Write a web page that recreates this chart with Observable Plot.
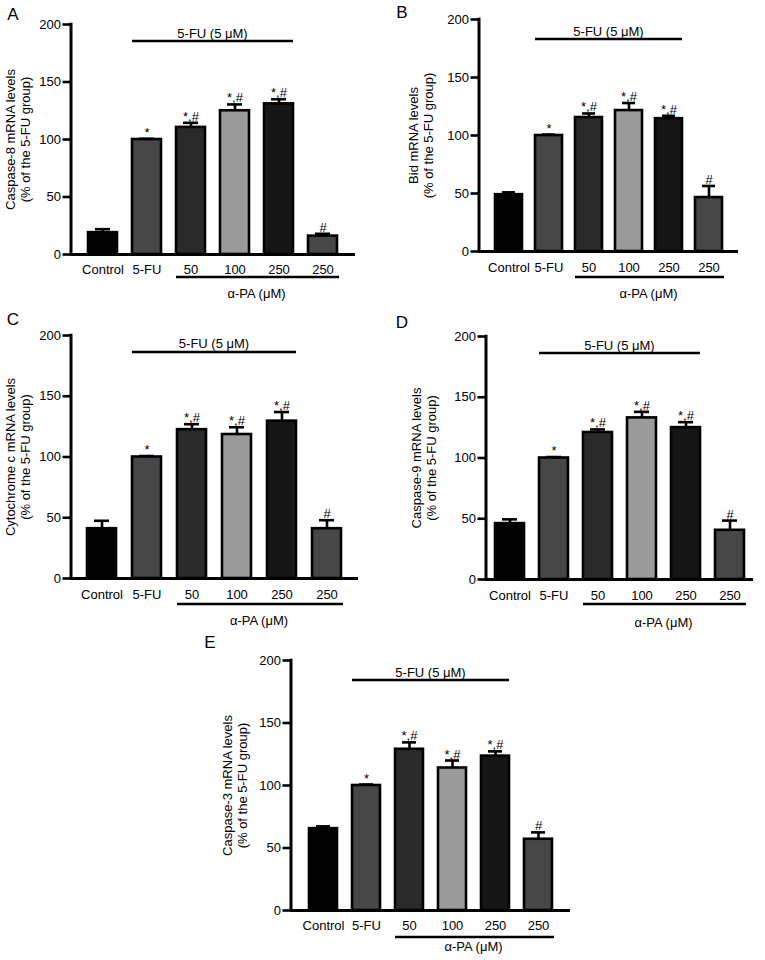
<!DOCTYPE html>
<html>
<head>
<meta charset="utf-8">
<script src="https://cdn.jsdelivr.net/npm/d3@7"></script>
<script src="https://cdn.jsdelivr.net/npm/@observablehq/plot@0.6"></script>
<style>
  html, body { margin: 0; padding: 0; background: #fff; }
  #root { position: relative; width: 765px; height: 960px; overflow: hidden; background: #fff; }
  .panel { position: absolute; }
</style>
</head>
<body>
<div id="root"></div>
<script>
// ---------------- data ----------------
const groupKeys = ["Control", "5-FU", "50", "100", "250", "250 alone"];
const tickLabels = ["Control", "5-FU", "50", "100", "250", "250"];
const barFills = ["#000000", "#474747", "#2a2a2a", "#9a9a9a", "#161616", "#474747"];
const sigLabels = ["", "*", "*,#", "*,#", "*,#", "#"];
const yTicks = [0, 50, 100, 150, 200];

const panelLetters = ["A", "B", "C", "D", "E"];
const yTitles = ["Caspase-8 mRNA levels", "Bid mRNA levels", "Cytochrome c mRNA levels", "Caspase-9 mRNA levels", "Caspase-3 mRNA levels"];
const ySubtitle = "(% of the 5-FU group)";

const caspase8 = [19, 100, 110.5, 125, 131, 16];
const caspase8Err = [3, 0.6, 4, 5.5, 4, 2];
const bid = [49, 100, 115.5, 121.5, 114.5, 46.5];
const bidErr = [2, 0.8, 3.5, 6.5, 2.5, 10];
const cytochromeC = [41, 100, 122.5, 118.5, 129.5, 41];
const cytochromeCErr = [6.5, 0.8, 4.5, 6, 7.5, 7];
const caspase9 = [46, 100, 121, 133, 125, 40.5];
const caspase9Err = [3.5, 0.8, 2.5, 5, 4.5, 8];
const caspase3 = [65.5, 100, 129, 114, 123.5, 57];
const caspase3Err = [1.8, 0.8, 5.5, 6, 3.8, 5.5];

const bracketLabels = ["5-FU (5 μM)", "α-PA (μM)"];
const bracketFrom = ["5-FU", "50"];
const bracketTo = ["250", "250 alone"];

const panelValues = [caspase8, bid, cytochromeC, caspase9, caspase3];
const panelErrors = [caspase8Err, bidErr, cytochromeCErr, caspase9Err, caspase3Err];

// ---------------- layout (pixels) ----------------
const layouts = [
  {left: 0,   top: 0,   w: 380, h: 305, mL: 71,  mR: 25, mT: 24, mB: 51, pi: 0.33, po: 0.35, titleDx: -54, catPad: 10, upLine: 17, upText: 14, dnLine: 23, dnText: 44, letterX: 13, letterY: 20},
  {left: 380, top: 0,   w: 385, h: 305, mL: 99,  mR: 27, mT: 19, mB: 54, pi: 0.32, po: 0.335, titleDx: -59, catPad: 11, upLine: 20, upText: 17, dnLine: 26, dnText: 47, letterX: 22, letterY: 18},
  {left: 0,   top: 300, w: 380, h: 330, mL: 71,  mR: 22, mT: 35, mB: 52, pi: 0.345, po: 0.36, titleDx: -54, catPad: 11, upLine: 17, upText: 13, dnLine: 26, dnText: 47, letterX: 13, letterY: 25},
  {left: 380, top: 300, w: 385, h: 330, mL: 106, mR: 12, mT: 36, mB: 51, pi: 0.35, po: 0.18, titleDx: -63, catPad: 11, upLine: 17, upText: 14, dnLine: 25, dnText: 48, letterX: 22, letterY: 28},
  {left: 180, top: 620, w: 400, h: 340, mL: 111, mR: 10, mT: 40, mB: 50, pi: 0.36, po: 0.37, titleDx: -57, catPad: 10, upLine: 20, upText: 17, dnLine: 27, dnText: 41, letterX: 30, letterY: 28}
];

const FONT = "'Liberation Sans', Arial, Helvetica, sans-serif";
const root = document.getElementById("root");
const labelByKey = new Map(groupKeys.map((k, i) => [k, tickLabels[i]]));

panelLetters.forEach((letter, p) => {
  const L = layouts[p];
  const vals = panelValues[p], errs = panelErrors[p];
  const data = groupKeys.map((k, i) => ({key: k, value: vals[i], top: vals[i] + errs[i], sig: sigLabels[i]}));

  const chart = Plot.plot({
    width: L.w, height: L.h,
    marginLeft: L.mL, marginRight: L.mR, marginTop: L.mT, marginBottom: L.mB,
    style: {fontFamily: FONT, fontSize: "13px", color: "#000", background: "transparent", overflow: "visible", maxWidth: "none"},
    x: {domain: groupKeys, paddingInner: L.pi, paddingOuter: L.po, align: 0.5},
    y: {domain: [0, 200]},
    color: {domain: groupKeys, range: barFills},
    marks: [
      Plot.barY(data, {x: "key", y: "value", fill: "key", stroke: "#000", strokeWidth: 2.6}),
      Plot.ruleX(data, {x: "key", y1: "value", y2: "top", stroke: "#000", strokeWidth: 2.6}),
      Plot.tickY(data, {x: "key", y: "top", stroke: "#000", strokeWidth: 2.6, inset: 7}),
      Plot.text(data, {x: "key", y: "top", text: "sig", lineAnchor: "bottom", dy: -2, fontSize: 13, fill: "#000"}),
      Plot.axisY({ticks: yTicks, tickSize: 8.5, tickPadding: 2, strokeWidth: 2.6, fontSize: 13, label: null}),
      Plot.axisX({tickSize: 0, tickPadding: L.catPad, fontSize: 13, label: null, tickFormat: (d) => labelByKey.get(d)}),
      Plot.ruleY([0], {stroke: "#000", strokeWidth: 3}),
      Plot.text([yTitles[p] + "\n" + ySubtitle], {frameAnchor: "left", textAnchor: "middle", rotate: -90, dx: L.titleDx, fontSize: 13, lineHeight: 1.15, lineAnchor: "middle", fill: "#000"})
    ]
  });

  const sx = chart.scale("x"), sy = chart.scale("y");
  const bw = sx.bandwidth;
  const y0 = sy.apply(0), y200 = sy.apply(200);
  const svg = d3.select(chart);

  // y axis line
  svg.append("line")
    .attr("x1", L.mL).attr("x2", L.mL)
    .attr("y1", y200 - 1.3).attr("y2", y0 + 1.5)
    .attr("stroke", "#000").attr("stroke-width", 3);

  // brackets
  bracketLabels.forEach((lab, b) => {
    const xa = sx.apply(bracketFrom[b]);
    const xb = sx.apply(bracketTo[b]) + bw;
    const top = b === 0;
    const ly = top ? y200 + L.upLine : y0 + L.dnLine;
    const ty = top ? y200 + L.upText : y0 + L.dnText;
    svg.append("line")
      .attr("x1", xa).attr("x2", xb + (top ? 0 : 2))
      .attr("y1", ly).attr("y2", ly)
      .attr("stroke", "#000").attr("stroke-width", 2.6);
    svg.append("text")
      .attr("x", (xa + xb) / 2).attr("y", ty)
      .attr("text-anchor", "middle")
      .attr("font-family", FONT).attr("font-size", 13).attr("fill", "#000")
      .text(lab);
  });

  // panel letter
  svg.append("text")
    .attr("x", L.letterX).attr("y", L.letterY)
    .attr("font-family", FONT).attr("font-size", 17).attr("fill", "#000")
    .text(letter);

  const div = document.createElement("div");
  div.className = "panel";
  div.style.left = L.left + "px";
  div.style.top = L.top + "px";
  div.style.width = L.w + "px";
  div.style.height = L.h + "px";
  div.appendChild(chart);
  root.appendChild(div);
});
</script>
</body>
</html>
